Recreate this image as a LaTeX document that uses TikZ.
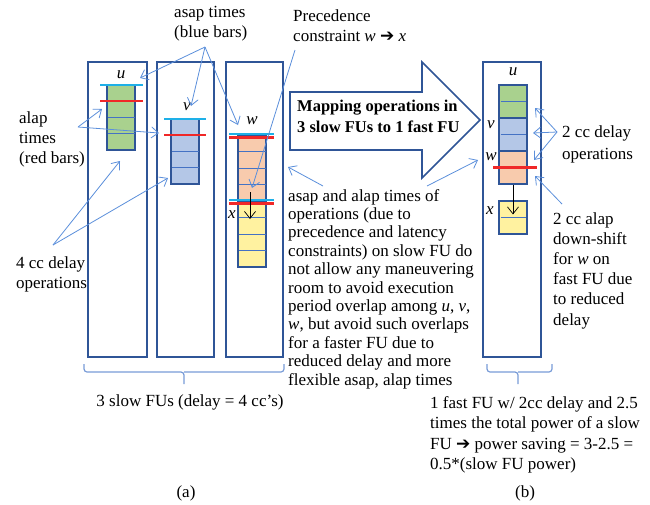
\documentclass[tikz,border=0pt]{standalone}
\usepackage{fontspec}
\setmainfont{Liberation Serif}
\newfontfamily\symfont{DejaVu Sans}
\usetikzlibrary{arrows.meta}
\definecolor{fuline}{RGB}{47,85,151}
\definecolor{cellline}{RGB}{68,114,196}
\definecolor{noteline}{RGB}{91,143,219}
\definecolor{bracecol}{RGB}{120,155,215}
\definecolor{asapcol}{RGB}{30,176,232}
\definecolor{alapcol}{RGB}{240,40,40}
\definecolor{ucol}{RGB}{169,209,142}
\definecolor{vcol}{RGB}{180,199,231}
\definecolor{wcol}{RGB}{248,203,173}
\definecolor{xcol}{RGB}{255,242,160}
\newcommand{\darr}{{\symfont\bfseries ➔}}
\begin{document}
\begin{tikzpicture}[x=1pt,y=-1pt,
  fubox/.style={draw=fuline, line width=1.6pt, fill=white, inner sep=0pt, minimum height=295pt},
  opbox/.style={draw=fuline, line width=1.1pt, inner sep=0pt, minimum width=28pt},
  cell/.style={draw=cellline, line width=0.6pt},
  asapbar/.style={draw=asapcol, line width=2.4pt},
  alapbar/.style={draw=alapcol, line width=2.4pt},
  note/.style={draw=noteline, line width=0.8pt, -{Straight Barb[length=7pt,width=11pt]}},
  prec/.style={draw=black, line width=0.7pt, -{Straight Barb[length=7pt,width=11pt]}},
  brc/.style={draw=bracecol, line width=1.2pt, rounded corners=3pt},
  opname/.style={font=\fontsize{17}{20}\selectfont\itshape, inner sep=0pt},
  txt/.style={font=\fontsize{17}{20}\selectfont, align=left, inner sep=0pt, anchor=north west},
  ]
\useasboundingbox (0,0) rectangle (650,504);

\node[fubox, minimum width=59pt] (slowu) at (117.5,209.5){};
\node[fubox, minimum width=57pt] (slowv) at (185.5,209.5){};
\node[fubox, minimum width=57pt] (sloww) at (254.5,209.5){};
\node[fubox, minimum width=58pt] (fast) at (512,209.5){};

\node[opbox, fill=ucol, minimum height=65pt] (opu) at (121,117.5){};
\foreach \y in {101.25,117.5,133.75} \draw[cell] (107.5,\y) -- (134.5,\y);
\node[opbox, fill=vcol, minimum height=65pt] (opv) at (185,151.5){};
\foreach \y in {135.25,151.5,167.75} \draw[cell] (171.5,\y) -- (198.5,\y);
\node[opbox, fill=wcol, minimum height=66pt] (opw) at (252,168){};
\foreach \y in {151.5,168,184.5} \draw[cell] (238.5,\y) -- (265.5,\y);
\node[opbox, fill=xcol, minimum height=66pt] (opx) at (252,234){};
\foreach \y in {217.5,234,250.5} \draw[cell] (238.5,\y) -- (265.5,\y);

\draw[asapbar] (100,85) -- (143,85);
\draw[alapbar] (100,101) -- (143,101);
\draw[asapbar] (164,119) -- (206,119);
\draw[alapbar] (164,135) -- (206,135);
\draw[asapbar] (229,134) -- (274,134);
\draw[alapbar] (229,137.5) -- (274,137.5);
\draw[asapbar] (229,200) -- (274,200);
\draw[alapbar] (229,203.5) -- (274,203.5);

\node[opname] (lu) at (121,75){u};
\node[opname] (lv) at (187,107){v};
\node[opname] (lw) at (252,121){w};
\node[opname] (lx) at (232,215){x};

\coordinate (wxtop) at (250,192);
\coordinate (wxend) at (250,219);
\draw[prec] (wxtop) -- (wxend);

\node[opbox, fill=ucol, minimum height=33pt] (fu) at (513,101.5){};
\draw[cell] (500.5,101.5) -- (525.5,101.5);
\node[opbox, fill=vcol, minimum height=33pt] (fv) at (513,134.5){};
\draw[cell] (500.5,134.5) -- (525.5,134.5);
\node[opbox, fill=wcol, minimum height=33pt] (fw) at (513,167.5){};
\node[opbox, fill=xcol, minimum height=33pt] (fx) at (513,217.5){};
\draw[cell] (500.5,217.5) -- (525.5,217.5);
\draw[alapbar] (493,167.5) -- (537,167.5);
\draw[prec] (fw.south) -- ([yshift=-14pt]fx.north);

\node[opname] (flu) at (513,72){u};
\node[opname] (flv) at (491,125){v};
\node[opname] (flw) at (491,157){w};
\node[opname] (flx) at (490,211){x};

\draw[draw=fuline, line width=1.6pt, fill=white] (290,92) -- (422,92) -- (422,62) -- (480,120)
  -- (422,178) -- (422,150) -- (290,150) -- cycle;
\node[txt, font=\fontsize{16.5}{21}\selectfont\bfseries] (maptext) at (297,100){Mapping operations in\\3 slow FUs to 1 fast FU};

\draw[brc] (84,364) |- (184,372) -- (184,384);
\draw[brc] (184,372) -| (284,364);
\draw[brc] (487,364) |- (518,372) -- (518,384);
\draw[brc] (518,372) -| (552,364);

\node[txt] (asaplbl) at (174,6){asap times\\(blue bars)};
\node[txt] (preclbl) at (293,10){Precedence\\constraint \textit{w} \darr{} \textit{x}};
\node[txt] (alaplbl) at (19,111){alap\\times\\(red bars)};
\node[txt] (delaylbl) at (16,256){4 cc delay\\operations};
\node[txt, font=\fontsize{17}{18.4}\selectfont] (paralbl) at (288,189){asap and alap times of\\operations (due to\\precedence and latency\\constraints) on slow FU do\\not allow any maneuvering\\room to avoid execution\\period overlap among \textit{u}, \textit{v},\\\textit{w}, but avoid such overlaps\\for a faster FU due to\\reduced delay and more\\flexible asap, alap times};
\node[txt, font=\fontsize{17}{21}\selectfont] (fastlbl) at (562,126){2 cc delay\\operations};
\node[txt, font=\fontsize{17}{20.2}\selectfont] (shiftlbl) at (553,212){2 cc alap\\down-shift\\for \textit{w} on\\fast FU due\\to reduced\\delay};
\node[font=\fontsize{17}{20}\selectfont, inner sep=0pt] (slowcap) at (190,402){3 slow FUs (delay = 4 cc’s)};
\node[txt, font=\fontsize{17}{20.5}\selectfont] (fastcap) at (430,396){1 fast FU w/ 2cc delay and 2.5\\times the total power of a slow\\FU \darr{} power saving = 3-2.5 =\\0.5*(slow FU power)};
\node[font=\fontsize{17}{20}\selectfont, inner sep=0pt] (capa) at (186,493){(a)};
\node[font=\fontsize{17}{20}\selectfont, inner sep=0pt] (capb) at (525,493){(b)};

\coordinate (asapsrc) at (205,47);
\coordinate (asapu) at (140,78);
\coordinate (asapv) at (191,106);
\coordinate (asapw) at (238,125);
\draw[note] (asapsrc) -- (asapu);
\draw[note] (asapsrc) -- (asapv);
\draw[note] (asapsrc) -- (asapw);
\coordinate (alapsrc) at (78,127);
\coordinate (alapu) at (102,109);
\coordinate (alapv) at (159,133);
\draw[note] (alapsrc) -- (alapu);
\draw[note] (alapsrc) -- (alapv);
\coordinate (delaysrc) at (53,245);
\coordinate (delayu) at (120,161);
\coordinate (delayv) at (168,178);
\draw[note] (delaysrc) -- (delayu);
\draw[note] (delaysrc) -- (delayv);
\coordinate (precsrc) at (295,50);
\coordinate (precw) at (252,188);
\draw[note] (precsrc) -- (precw);
\coordinate (parasrcl) at (323,186);
\coordinate (paraslow) at (288,167);
\coordinate (parasrcr) at (427,186);
\coordinate (parafast) at (478,160);
\draw[note] (parasrcl) -- (paraslow);
\draw[note] (parasrcr) -- (parafast);
\coordinate (fastsrc) at (557,132);
\coordinate (fastu) at (535,108);
\coordinate (fastv) at (533,133);
\coordinate (fastw) at (534,160);
\draw[note] (fastsrc) -- (fastu);
\draw[note] (fastsrc) -- (fastv);
\draw[note] (fastsrc) -- (fastw);
\coordinate (shiftsrc) at (562,204);
\coordinate (shiftw) at (535,176);
\draw[note] (shiftsrc) -- (shiftw);
\end{tikzpicture}
\end{document}
